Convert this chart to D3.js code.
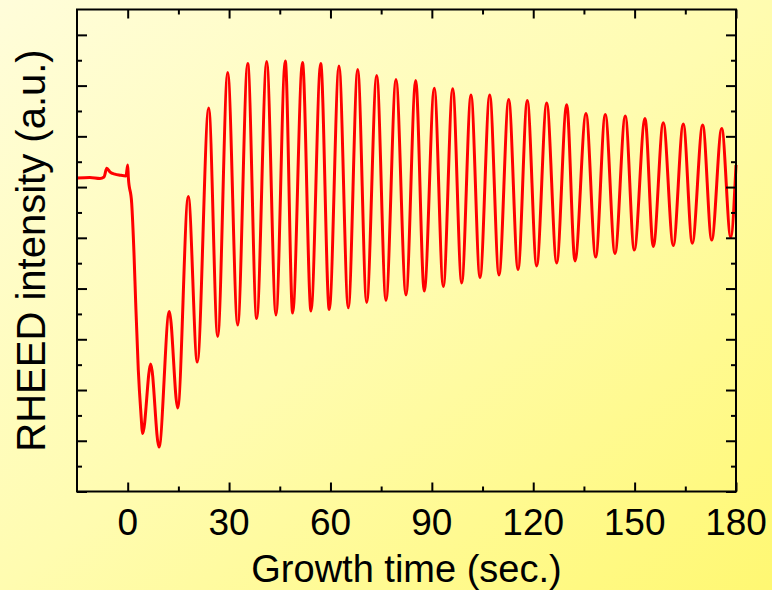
<!DOCTYPE html>
<html>
<head>
<meta charset="utf-8">
<script src="https://cdn.jsdelivr.net/npm/d3@7"></script>
<style>
  html, body { margin: 0; padding: 0; }
  svg { display: block; font-family: "Liberation Sans", Arial, sans-serif; }
</style>
</head>
<body>
<script>
// growth time (s) and RHEED intensity (a.u.)
const timeSec = [
  -15, -11.2, -8.2, -7.0, -6.2, -5.2, -3.8, -2.3, -0.5, 0.0, 0.2,
  1.18, 1.86, 2.37, 3.14, 3.85,
  4.44, 6.81, 9.26, 12.31, 14.80, 17.93, 20.59, 23.97, 26.63, 29.59,
  32.55, 35.51, 38.17, 41.13, 43.88, 46.63, 48.82, 51.72, 54.24, 57.11,
  59.65, 62.52, 65.28, 68.06, 70.72, 73.68, 76.43, 79.39, 82.35, 85.22,
  87.76, 90.72, 93.39, 96.17, 98.83, 101.58, 104.25, 107.12, 109.87, 112.74,
  115.5, 118.24, 121.02, 123.98, 126.94, 129.9, 132.36, 135.61, 138.48, 141.32,
  144.19, 147.24, 149.90, 153.07, 155.53, 158.48, 161.44, 164.40, 167.07, 170.14,
  172.81, 175.77, 178.43, 180
]
const intensity = [
  12.36, 12.38, 12.34, 12.40, 12.74, 12.59, 12.51, 12.47, 12.44, 12.87, 12.36,
  11.37, 9.40, 7.43, 4.79, 3.21,
  2.29, 5.03, 1.75, 7.10, 3.29, 11.63, 5.10, 15.12, 6.11, 16.52,
  6.56, 16.87, 6.82, 16.95, 6.96, 16.97, 7.04, 16.91, 7.12, 16.87,
  7.17, 16.77, 7.24, 16.63, 7.45, 16.40, 7.53, 16.24, 7.75, 16.20,
  7.90, 15.90, 8.08, 15.88, 8.22, 15.63, 8.44, 15.63, 8.53, 15.45,
  8.75, 15.41, 8.89, 15.31, 9.01, 15.25, 9.09, 14.90, 9.24, 14.86,
  9.38, 14.80, 9.52, 14.70, 9.66, 14.54, 9.70, 14.49, 9.79, 14.45,
  9.91, 14.31, 10.03, 12.87
]

const xMajorTicks = [0, 30, 60, 90, 120, 150, 180]
const xMinorTicks = [15, 45, 75, 105, 135, 165]
const yMajorTicks = [0, 2, 4, 6, 8, 10, 12, 14, 16, 18]
const yMinorTicks = [1, 3, 5, 7, 9, 11, 13, 15, 17]

const w = 772
const h = 590
const plotLeft = 77, plotRight = 736, plotTop = 9.5, plotBottom = 491.5

const svg = d3.select("body").append("svg")
  .attr("width", w)
  .attr("height", h)

const grad = svg.append("defs").append("linearGradient")
  .attr("id", "bg")
  .attr("x1", 0).attr("y1", 0).attr("x2", 1).attr("y2", 1)
grad.append("stop").attr("offset", "0%").attr("stop-color", "#fffdda")
grad.append("stop").attr("offset", "50%").attr("stop-color", "#fffcb0")
grad.append("stop").attr("offset", "100%").attr("stop-color", "#fff872")

svg.append("rect")
  .attr("width", w).attr("height", h)
  .attr("fill", "url(#bg)")

const x = d3.scaleLinear().domain([-15, 180]).range([plotLeft, plotRight])
const y = d3.scaleLinear().domain([0, 19]).range([plotBottom, plotTop])

const points = timeSec.map((t, i) => [t, intensity[i]])

const line = d3.line()
  .x(d => x(d[0]))
  .y(d => y(d[1]))
  .curve(d3.curveMonotoneX)

svg.append("path")
  .datum(points)
  .attr("fill", "none")
  .attr("stroke", "#ff0000")
  .attr("stroke-width", 3)
  .attr("stroke-linejoin", "round")
  .attr("d", line)

// ticks pointing inward, long ones for majors
function tickAxis(axisFn, scale, values, size, transform) {
  const g = svg.append("g")
    .attr("transform", transform)
    .call(axisFn(scale).tickValues(values).tickSize(size).tickFormat(""))
  g.select(".domain").remove()
  g.selectAll(".tick line").attr("stroke", "#000").attr("stroke-width", 2)
  return g
}

tickAxis(d3.axisBottom, x, xMajorTicks, -9, `translate(0,${plotBottom})`)
tickAxis(d3.axisBottom, x, xMinorTicks, -5, `translate(0,${plotBottom})`)
tickAxis(d3.axisTop, x, xMajorTicks, -9, `translate(0,${plotTop})`)
tickAxis(d3.axisTop, x, xMinorTicks, -5, `translate(0,${plotTop})`)
tickAxis(d3.axisLeft, y, yMajorTicks, -10, `translate(${plotLeft},0)`)
tickAxis(d3.axisLeft, y, yMinorTicks, -5, `translate(${plotLeft},0)`)
tickAxis(d3.axisRight, y, yMajorTicks, -10, `translate(${plotRight},0)`)
tickAxis(d3.axisRight, y, yMinorTicks, -5, `translate(${plotRight},0)`)

svg.append("rect")
  .attr("x", plotLeft).attr("y", plotTop)
  .attr("width", plotRight - plotLeft).attr("height", plotBottom - plotTop)
  .attr("fill", "none")
  .attr("stroke", "#000")
  .attr("stroke-width", 2)

svg.selectAll(".xlabel")
  .data(xMajorTicks)
  .enter()
  .append("text")
  .attr("class", "xlabel")
  .attr("x", d => x(d))
  .attr("y", 535)
  .attr("text-anchor", "middle")
  .style("font-size", "37px")
  .text(d => d)

svg.append("text")
  .attr("x", (plotLeft + plotRight) / 2)
  .attr("y", 582)
  .attr("text-anchor", "middle")
  .style("font-size", "38px")
  .text("Growth time (sec.)")

svg.append("text")
  .attr("transform", `translate(45,${(plotTop + plotBottom) / 2}) rotate(-90)`)
  .attr("text-anchor", "middle")
  .style("font-size", "40px")
  .text("RHEED intensity (a.u.)")
</script>
</body>
</html>
